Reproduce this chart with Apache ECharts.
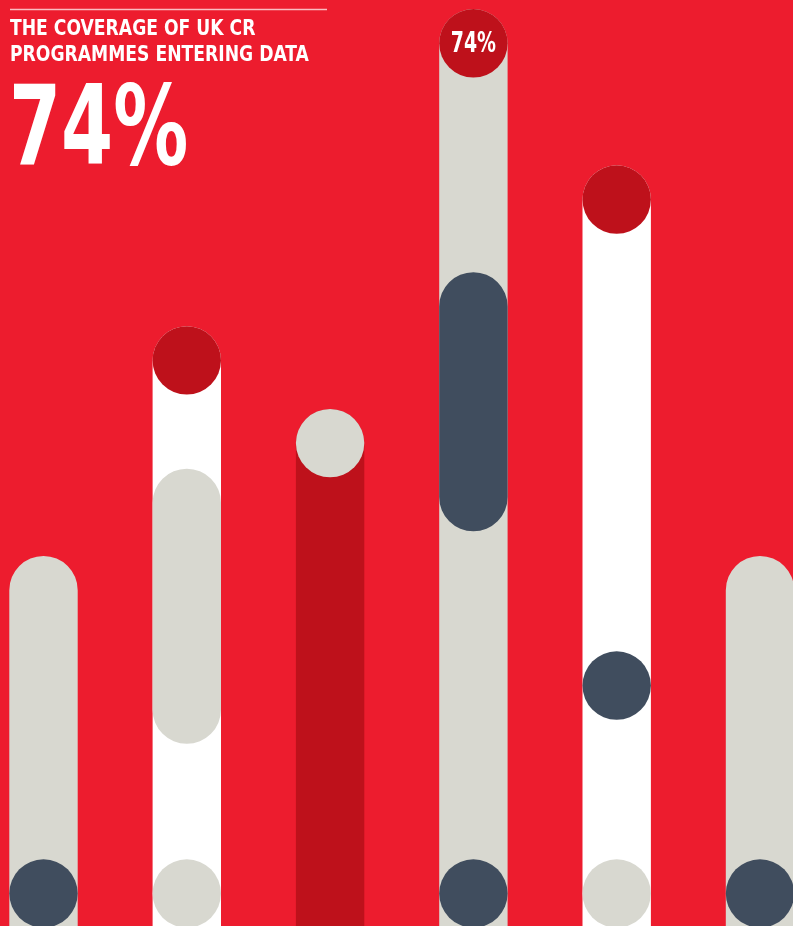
<!DOCTYPE html>
<html>
<head>
<meta charset="utf-8">
<title>The coverage of UK CR programmes entering data</title>
<script src="https://cdn.jsdelivr.net/npm/echarts@6/dist/echarts.min.js"></script>
<style>
  html, body { margin: 0; padding: 0; background: #ED1C2E; }
  #chart { width: 793px; height: 926px; }
</style>
</head>
<body>
<div id="chart"></div>
<script>
// ---- data -------------------------------------------------------------
// one entry per column (left to right); null = no mark in that column
const columns     = [0, 1, 2, 3, 4, 5];
const trackTop    = [26.4, 46.4, 39.2, 74, 60.4, 26.4];   // top of each long track
const capDot      = [null, 46.4, 39.2, 74, 60.4, null];   // dot sitting on the track top
const bandLow     = [null, 16.0, null, 34.5, null, null]; // inner band, lower end
const bandHigh    = [null, 34.0, null, 51.1, null, null]; // inner band, upper end
const midDot      = [null, null, null, null, 18.1, null];
const baseDot     = [0, 0, null, 0, 0, 0];
const labelledColumn = 3;                                 // dot carrying the % label
const headline    = 74; // coverage, %
const titleLines  = ['THE COVERAGE OF UK CR', 'PROGRAMMES ENTERING DATA'];

// ---- styles -----------------------------------------------------------
const RED = '#ED1C2E', DARKRED = '#BE111B', GREY = '#D8D8D0', NAVY = '#404D5E', WHITE = '#FFFFFF';
const trackColor   = [GREY, WHITE, DARKRED, GREY, WHITE, GREY];
const capColor     = [null, DARKRED, GREY, DARKRED, DARKRED, null];
const bandColor    = [null, GREY, null, NAVY, null, null];
const midDotColor  = [null, null, null, null, NAVY, null];
const baseDotColor = [NAVY, GREY, null, NAVY, GREY, NAVY];
const FAMILY = "'DejaVu Sans Condensed', 'DejaVu Sans', sans-serif";
const R = 34.2;          // half the column width, px
const FLOOR = -4;        // tracks run past the bottom edge

function pill(colors) {
  return function (params, api) {
    const top = api.coord([api.value(0), api.value(1)]);
    const bot = api.coord([api.value(0), api.value(2)]);
    return {
      type: 'rect',
      shape: { x: top[0] - R, y: top[1] - R, width: 2 * R, height: bot[1] - top[1] + 2 * R, r: R },
      style: { fill: colors[params.dataIndex] }
    };
  };
}

function dots(values, colors) {
  const out = [];
  columns.forEach(function (c, i) {
    if (values[i] == null) return;
    out.push({ value: [c, values[i]], itemStyle: { color: colors[i], opacity: 1 } });
  });
  return out;
}

const trackData = columns.map(function (c, i) { return [c, trackTop[i], FLOOR]; });
const bandData = [], bandColors = [];
columns.forEach(function (c, i) {
  if (bandLow[i] != null) { bandData.push([c, bandHigh[i], bandLow[i]]); bandColors.push(bandColor[i]); }
});

const chart = echarts.init(document.getElementById('chart'), null, { renderer: 'canvas' });
chart.setOption({
  backgroundColor: RED,
  animation: false,
  graphic: [
    {
      type: 'line', shape: { x1: 10, y1: 9.5, x2: 327, y2: 9.5 },
      style: { stroke: 'rgba(255,255,255,0.7)', lineWidth: 1.5 }, silent: true
    },
    {
      type: 'text', x: 10, y: 16, scaleX: 0.91,
      style: {
        text: titleLines.join('\n'), fill: WHITE, font: 'bold 21px ' + FAMILY,
        lineHeight: 26.6, textVerticalAlign: 'top'
      }
    },
    {
      type: 'text', x: 9, y: 80, scaleX: 0.75,
      style: {
        text: headline + '%', fill: WHITE, font: 'bold 111px ' + FAMILY,
        lineHeight: 111, textVerticalAlign: 'top'
      }
    }
  ],
  grid: { left: 43.5, right: 33, top: 43.3, bottom: 32.5 },
  xAxis: { type: 'value', min: 0, max: 5, show: false },
  yAxis: { type: 'value', min: 0, max: 74, show: false },
  series: [
    { type: 'custom', name: 'track', renderItem: pill(trackColor), data: trackData, z: 1 },
    { type: 'custom', name: 'band', renderItem: pill(bandColors), data: bandData, z: 2 },
    { type: 'scatter', name: 'cap', symbolSize: 2 * R, data: dots(capDot, capColor), z: 3 },
    { type: 'scatter', name: 'mid', symbolSize: 2 * R, data: dots(midDot, midDotColor), z: 3 },
    { type: 'scatter', name: 'base', symbolSize: 2 * R, data: dots(baseDot, baseDotColor), z: 3 },
    {
      type: 'custom', name: 'capLabel', z: 4,
      data: [[labelledColumn, capDot[labelledColumn]]],
      renderItem: function (params, api) {
        const p = api.coord([api.value(0), api.value(1)]);
        return {
          type: 'text', x: p[0], y: p[1] + 1, scaleX: 0.75,
          style: {
            text: api.value(1) + '%', fill: WHITE, font: 'bold 28px ' + FAMILY,
            textAlign: 'center', textVerticalAlign: 'middle'
          }
        };
      }
    }
  ]
});
</script>
</body>
</html>
